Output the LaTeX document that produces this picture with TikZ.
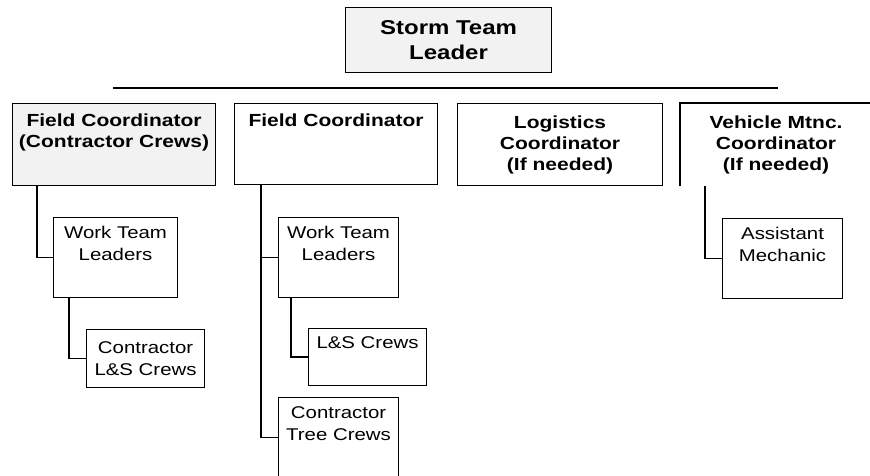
\documentclass[tikz,border=0pt]{standalone}
\usepackage{fontspec}
\setmainfont{Liberation Sans}[FakeStretch=1.2]
\usetikzlibrary{positioning}
\tikzset{
  orgbox/.style={draw, line width=1.1pt, inner sep=0pt, anchor=north west, align=center},
  topfont/.style={font=\fontsize{20}{25}\selectfont\bfseries},
  leadfont/.style={font=\fontsize{17.5}{21}\selectfont\bfseries},
  crewfont/.style={font=\fontsize{17}{22}\selectfont},
  link/.style={line width=1.3pt},
}

\begin{document}
\begin{tikzpicture}[x=1pt, y=-1pt]
  \useasboundingbox (0,0) rectangle (870,476);
  % top of the chart
  \node[orgbox, topfont, fill=black!5, minimum width=206pt, minimum height=65pt] (stl) at (345,7) {Storm Team\\Leader};
  \coordinate (busL) at (113,88);
  \coordinate (busR) at (778,88);
  \draw[link] (busL) -- (busR);

  % coordinators
  \node[orgbox, leadfont, fill=black!5, minimum width=203pt, minimum height=82pt] (fcA) at (12,103) {Field Coordinator\\(Contractor Crews)\\\strut};
  \node[orgbox, leadfont, minimum width=203pt, minimum height=81pt] (fcB) at (234,103) {Field Coordinator\\\strut\\\strut};
  \node[orgbox, leadfont, minimum width=205pt, minimum height=82pt] (lgc) at (457,103) {Logistics\\Coordinator\\(If needed)};
  \node[orgbox, leadfont, draw=none, minimum width=191pt, minimum height=82pt] (vmc) at (680,103) {Vehicle Mtnc.\\Coordinator\\(If needed)};
  \draw[line width=1.1pt] (vmc.south west) -- (vmc.north west) -- (vmc.north east);

  % contractor crews
  \node[orgbox, crewfont, minimum width=124pt, minimum height=80pt] (wtlA) at (53,217) {Work Team\\Leaders\\\strut};
  \node[orgbox, crewfont, minimum width=118pt, minimum height=58pt] (lsA) at (86,329) {Contractor\\L\&S Crews};
  \draw[link] ([xshift=25pt]fcA.south west) |- (wtlA.west);
  \draw[link] ([xshift=16pt]wtlA.south west) |- (lsA.west);

  % own crews
  \node[orgbox, crewfont, minimum width=120pt, minimum height=80pt] (wtlB) at (278,217) {Work Team\\Leaders\\\strut};
  \node[orgbox, crewfont, minimum width=118pt, minimum height=57pt] (lsB) at (308,328) {L\&S Crews\\\strut};
  \node[orgbox, crewfont, minimum width=120pt, minimum height=80pt] (treeB) at (278,397) {Contractor\\Tree Crews\\\strut};
  \draw[link] ([xshift=27pt]fcB.south west) |- (wtlB.west);
  \draw[link] ([xshift=27pt]fcB.south west) |- (treeB.west);
  \draw[link] ([xshift=13pt]wtlB.south west) |- (lsB.west);

  % vehicle maintenance
  \node[orgbox, crewfont, minimum width=120pt, minimum height=80pt] (amD) at (722,218) {Assistant\\Mechanic\\\strut};
  \draw[link] ([xshift=25pt]vmc.south west) |- (amD.west);
\end{tikzpicture}
\end{document}
